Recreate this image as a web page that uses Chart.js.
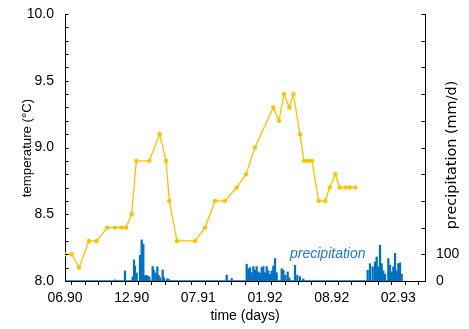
<!DOCTYPE html>
<html>
<head>
<meta charset="utf-8">
<script src="https://cdn.jsdelivr.net/npm/chart.js@4.4.1/dist/chart.umd.min.js"></script>
<style>
  html, body { margin: 0; padding: 0; background: #fff; }
  canvas { display: block; }
</style>
</head>
<body>
<canvas id="c" width="469" height="329"></canvas>
<script>
// Groundwater temperature samples (day 0 = June 1990), °C
const tempDays = [0, 20, 42, 72, 95, 127, 150, 170, 183, 200, 214, 253, 284, 303, 313, 336, 390, 420, 450, 480,
                  515, 543, 570, 625, 642, 657, 673, 685, 705, 717, 729, 741, 761, 781, 794, 811, 824, 841, 854, 871];
const tempValues = [8.2, 8.2, 8.1, 8.3, 8.3, 8.4, 8.4, 8.4, 8.4, 8.5, 8.9, 8.9, 9.1, 8.9, 8.6, 8.3, 8.3, 8.4, 8.6, 8.6,
                    8.7, 8.8, 9.0, 9.3, 9.2, 9.4, 9.3, 9.4, 9.1, 8.9, 8.9, 8.9, 8.6, 8.6, 8.7, 8.8, 8.7, 8.7, 8.7, 8.7];

// Days with rainfall and the daily amount, mm/d
const precipDays = [150, 180, 203, 207, 210, 215, 225, 230, 235, 238, 243, 248, 253, 263, 266, 272, 277, 281, 285, 293, 297, 307, 311,
                    485, 500, 545, 550, 555, 560, 565, 570, 575, 580, 585, 590, 595, 600, 605, 610, 615, 620, 625, 630, 635,
                    650, 655, 661, 668, 673, 690, 697, 705, 715,
                    908, 915, 923, 930, 935, 940, 945, 950, 955, 960, 970, 975, 980, 985, 990, 995, 1000, 1005, 1010];
const precipValues = [4, 38, 15, 79, 56, 30, 96, 154, 138, 19, 21, 19, 15, 54, 41, 30, 53, 21, 12, 41, 12, 8, 6,
                      22, 9, 63, 46, 50, 31, 54, 41, 54, 34, 29, 50, 54, 31, 54, 38, 25, 38, 56, 84, 31,
                      46, 41, 21, 34, 12, 59, 21, 16, 8,
                      40, 65, 53, 71, 90, 53, 134, 65, 38, 25, 84, 59, 34, 53, 103, 38, 65, 68, 25];
// First and last day of the precipitation record
const precipRecord = [0, 1012];

// Date labels (month.year) every 200 days
const timeTickDays = [0, 200, 400, 600, 800, 1000];
const timeTickLabels = ['06.90', '12.90', '07.91', '01.92', '08.92', '02.93'];
// Labelled values on the precipitation axis
const precipTickLabels = [0, 100];

const FONT = "'Liberation Sans', Arial, Helvetica, sans-serif";
const YELLOW = '#FFC000';
const BLUE = '#0070C0';
Chart.defaults.font.family = FONT;
Chart.defaults.font.size = 14;
Chart.defaults.color = '#000';

const tempPoints = tempDays.map((d, i) => ({ x: d, y: tempValues[i] }));
const precipPoints = precipDays.map((d, i) => ({ x: d, y: precipValues[i] }));
const precipZero = precipRecord.map(d => ({ x: d, y: 0 }));

// Fixed axis band sizes so the plot area keeps its place
const fixWidth = w => s => { s.width = w; s.paddingTop = 0; s.paddingBottom = 0; };

// Inward tick marks on both value axes, rotated axis titles and the series label
const decor = {
  id: 'decor',
  afterDatasetsDraw(chart) {
    const { ctx, scales: { x, yP } } = chart;
    ctx.save();
    ctx.fillStyle = '#1F78C8';
    ctx.font = 'italic 14px ' + FONT;
    ctx.textAlign = 'left';
    ctx.textBaseline = 'middle';
    ctx.fillText('precipitation', x.getPixelForValue(675), yP.getPixelForValue(100));
    ctx.restore();
  },
  afterDraw(chart) {
    const { ctx, chartArea: a, scales: { yT, yP } } = chart;
    ctx.save();
    ctx.strokeStyle = '#000';
    ctx.lineWidth = 1;
    ctx.beginPath();
    yT.ticks.forEach(t => {
      const y = Math.round(yT.getPixelForValue(t.value)) + 0.5;
      ctx.moveTo(a.left, y); ctx.lineTo(a.left + 3.5, y);
    });
    yP.ticks.forEach(t => {
      const y = Math.round(yP.getPixelForValue(t.value)) + 0.5;
      ctx.moveTo(a.right - 3.5, y); ctx.lineTo(a.right, y);
    });
    ctx.stroke();

    ctx.fillStyle = '#000';
    ctx.textAlign = 'center';
    ctx.textBaseline = 'middle';
    ctx.save();
    ctx.font = '13.2px ' + FONT;
    ctx.translate(27, 148);
    ctx.rotate(-Math.PI / 2);
    ctx.fillText('temperature (°C)', 0, 0);
    ctx.restore();
    ctx.save();
    ctx.font = "14.4px 'DejaVu Sans', sans-serif";
    ctx.translate(452, 155);
    ctx.rotate(-Math.PI / 2);
    ctx.fillText('precipitation (mm/d)', 0, 0);
    ctx.restore();
    ctx.restore();
  }
};

new Chart(document.getElementById('c'), {
  type: 'bar',
  data: {
    datasets: [
      {
        type: 'line', label: 'temperature', data: tempPoints, yAxisID: 'yT',
        borderColor: YELLOW, backgroundColor: YELLOW, borderWidth: 1.3,
        pointRadius: 2.2, pointHoverRadius: 2.2, pointBorderWidth: 0, tension: 0, order: 0
      },
      {
        type: 'line', label: 'zero', data: precipZero, yAxisID: 'yP',
        borderColor: BLUE, borderWidth: 1.6, pointRadius: 0, order: 1
      },
      {
        type: 'bar', label: 'precipitation', data: precipPoints, yAxisID: 'yP',
        backgroundColor: BLUE, borderWidth: 0, barThickness: 1.6, order: 2
      }
    ]
  },
  options: {
    responsive: false,
    animation: false,
    devicePixelRatio: 1,
    layout: { padding: { top: 14, left: 0, right: 0, bottom: 0 } },
    plugins: { legend: { display: false }, tooltip: { enabled: false } },
    scales: {
      x: {
        type: 'linear', position: 'bottom', min: 0, max: 1080, offset: false,
        grid: { display: true, drawOnChartArea: false, drawTicks: true, tickLength: 4, tickColor: '#000' },
        border: { display: true, color: '#000', width: 1 },
        ticks: {
          stepSize: 40, autoSkip: false, maxRotation: 0, minRotation: 0, padding: 5,
          callback: v => { const i = timeTickDays.indexOf(v); return i >= 0 ? timeTickLabels[i] : ''; }
        },
        title: { display: true, text: 'time (days)', padding: { top: 0, bottom: 4 } },
        afterFit: s => { s.height = 48; s.paddingLeft = 0; s.paddingRight = 0; }
      },
      yT: {
        type: 'linear', position: 'left', min: 8, max: 10,
        grid: { display: true, drawOnChartArea: false, drawTicks: false },
        border: { display: true, color: '#000', width: 1 },
        ticks: {
          stepSize: 0.1, autoSkip: false, padding: 11,
          callback: v => Math.abs(v * 2 - Math.round(v * 2)) < 1e-6 ? v.toFixed(1) : ''
        },
        afterFit: fixWidth(65)
      },
      yP: {
        type: 'linear', position: 'right', min: 0, max: 1000,
        grid: { display: true, drawOnChartArea: false, drawTicks: false },
        border: { display: true, color: '#000', width: 1 },
        ticks: {
          stepSize: 100, autoSkip: false, padding: 11,
          callback: v => precipTickLabels.includes(v) ? String(v) : ''
        },
        afterFit: fixWidth(44)
      }
    }
  },
  plugins: [decor]
});
</script>
</body>
</html>
